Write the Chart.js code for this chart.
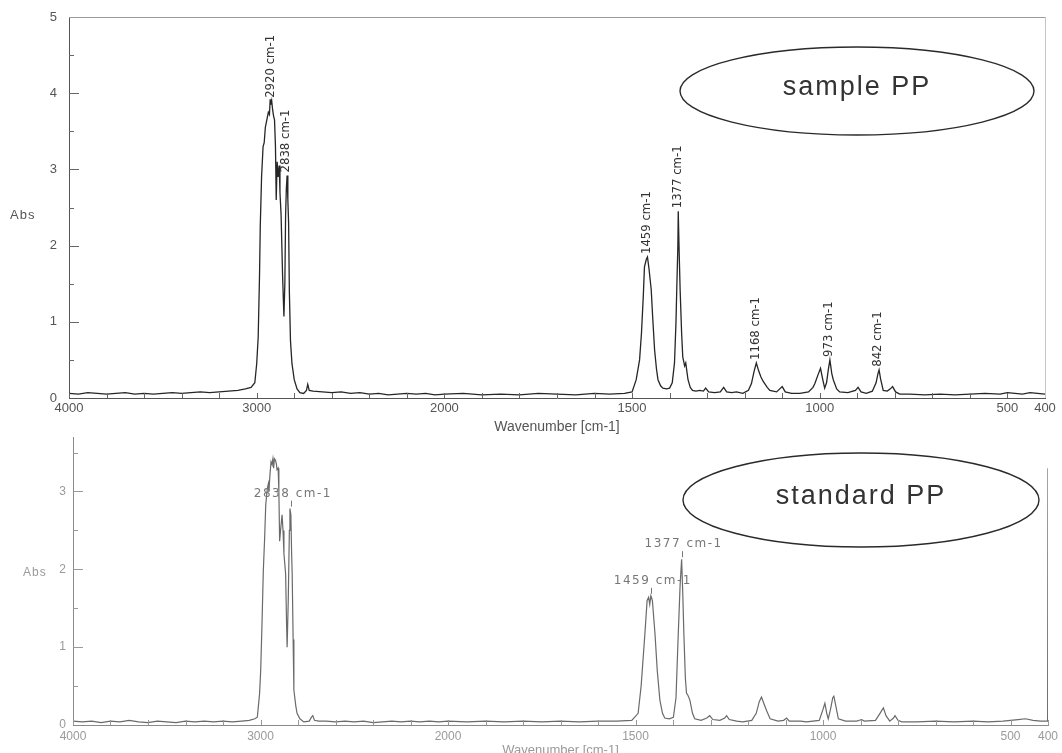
<!DOCTYPE html>
<html>
<head>
<meta charset="utf-8">
<script src="https://cdn.jsdelivr.net/npm/chart.js@4.4.0/dist/chart.umd.min.js"></script>
<style>
    body { margin: 0; background: #fff; }
    canvas { position: absolute; left: 0; }
    #js--top { top: 0; }
    #js--bottom { top: 430px; }
</style>
</head>
<body>
<canvas id="js--top" width="1062" height="440"></canvas>
<canvas id="js--bottom" width="1062" height="323"></canvas>
<script>
// sample PP spectrum (wavenumber cm-1 / absorbance)
const topWave = [4000, 3950, 3900, 3850, 3800, 3750, 3700, 3650, 3600, 3550, 3500, 3450, 3400, 3350, 3300, 3250, 3200, 3150, 3100, 3060, 3030, 3010,
    3000, 2992, 2985, 2981, 2974, 2966, 2960, 2954, 2946, 2938, 2932, 2928, 2924, 2920, 2915, 2910, 2905, 2900, 2896, 2891, 2886, 2880, 2876, 2870,
    2862, 2855, 2850, 2846, 2842, 2838, 2834, 2830, 2826, 2820, 2812, 2800, 2785, 2770, 2750, 2735, 2728, 2720, 2700, 2650, 2600, 2550, 2500, 2450,
    2400, 2350, 2300, 2250, 2200, 2150, 2100, 2050, 2000, 1950, 1900, 1850, 1800, 1750, 1700, 1650, 1600, 1560, 1520, 1500, 1489, 1480, 1475, 1470,
    1467, 1462, 1459, 1455, 1449, 1445, 1440, 1435, 1431, 1424, 1418, 1408, 1400, 1393, 1387, 1383, 1381, 1378, 1377, 1375, 1372, 1368, 1365, 1360,
    1357, 1354, 1351, 1345, 1339, 1330, 1320, 1310, 1304, 1296, 1280, 1265, 1256, 1248, 1235, 1222, 1205, 1190, 1182, 1175, 1169, 1163, 1157, 1151,
    1140, 1133, 1115, 1100, 1092, 1075, 1053, 1030, 1018, 1013, 1005, 998, 992, 987, 982, 977, 973, 968, 964, 955, 947, 925, 905, 898, 890, 876,
    860, 850, 845, 842, 838, 831, 820, 812, 806, 798, 787, 760, 720, 680, 640, 600, 560, 520, 500, 480, 460, 440, 420, 400];
const topAbs = [0.06, 0.05, 0.07, 0.06, 0.05, 0.06, 0.07, 0.05, 0.06, 0.05, 0.06, 0.07, 0.06, 0.07, 0.08, 0.07, 0.08, 0.09, 0.1, 0.12, 0.14, 0.2,
    0.45, 0.8, 1.6, 2.25, 2.9, 3.3, 3.35, 3.55, 3.65, 3.75, 3.72, 3.92, 3.85, 3.9, 3.78, 3.7, 3.65, 3.3, 2.6, 3.1, 2.9, 3.05, 2.7, 2.4,
    1.6, 1.07, 1.5, 2.4, 2.75, 2.92, 2.6, 2.3, 1.4, 0.75, 0.45, 0.24, 0.12, 0.07, 0.06, 0.1, 0.18, 0.1, 0.09, 0.08, 0.07, 0.08, 0.06, 0.07,
    0.05, 0.06, 0.04, 0.05, 0.06, 0.05, 0.06, 0.04, 0.05, 0.06, 0.04, 0.05, 0.04, 0.06, 0.05, 0.04, 0.06, 0.05, 0.06, 0.08, 0.24, 0.5, 0.85, 1.35,
    1.72, 1.82, 1.85, 1.7, 1.42, 1.05, 0.63, 0.38, 0.24, 0.16, 0.13, 0.12, 0.13, 0.2, 0.46, 1.0, 1.42, 2.0, 2.45, 2.0, 1.42, 0.85, 0.54, 0.42,
    0.46, 0.35, 0.24, 0.14, 0.1, 0.09, 0.1, 0.09, 0.13, 0.08, 0.07, 0.08, 0.14, 0.08, 0.07, 0.08, 0.06, 0.1, 0.19, 0.35, 0.46, 0.36, 0.28, 0.22,
    0.14, 0.1, 0.08, 0.15, 0.08, 0.06, 0.06, 0.08, 0.14, 0.19, 0.3, 0.39, 0.24, 0.13, 0.2, 0.38, 0.5, 0.32, 0.24, 0.12, 0.08, 0.07, 0.1, 0.14, 0.08, 0.06,
    0.09, 0.2, 0.32, 0.37, 0.25, 0.1, 0.09, 0.12, 0.15, 0.08, 0.05, 0.05, 0.04, 0.05, 0.04, 0.05, 0.06, 0.05, 0.07, 0.06, 0.05, 0.07, 0.06, 0.05];

// standard PP spectrum
const bottomWave = [4000, 3950, 3900, 3850, 3800, 3750, 3700, 3650, 3600, 3550, 3500, 3450, 3400, 3350, 3300, 3250, 3200, 3150, 3100, 3060, 3030, 3017,
    3005, 2999, 2992, 2985, 2978, 2972, 2964, 2958, 2955, 2950, 2944, 2939, 2934, 2930, 2926, 2920, 2915, 2912, 2906, 2902, 2898, 2893, 2885, 2880,
    2875, 2866, 2861, 2858, 2852, 2846, 2843, 2838, 2834, 2831, 2826, 2822, 2812, 2805, 2790, 2769, 2740, 2728, 2721, 2712, 2690, 2650, 2600, 2550,
    2500, 2450, 2400, 2350, 2300, 2250, 2200, 2150, 2100, 2050, 2000, 1950, 1900, 1850, 1800, 1750, 1700, 1650, 1600, 1550, 1510, 1493, 1485, 1475,
    1469, 1465, 1462, 1459, 1455, 1448, 1442, 1435, 1428, 1422, 1410, 1399, 1392, 1386, 1381, 1377, 1374, 1371, 1367, 1364, 1360, 1355, 1348, 1342,
    1325, 1310, 1302, 1294, 1275, 1262, 1257, 1250, 1230, 1214, 1190, 1178, 1170, 1164, 1158, 1150, 1141, 1120, 1105, 1097, 1090, 1060, 1044, 1010,
    1000, 995, 990, 986, 980, 974, 971, 966, 959, 940, 910, 897, 890, 860, 848, 839, 832, 822, 812, 808, 800, 790, 750, 700, 650, 600, 560, 520,
    480, 460, 440, 420, 406, 401, 400];
const bottomAbs = [0.05, 0.04, 0.05, 0.03, 0.05, 0.04, 0.06, 0.04, 0.03, 0.05, 0.04, 0.03, 0.05, 0.04, 0.05, 0.04, 0.05, 0.04, 0.05, 0.06, 0.08, 0.1,
    0.4, 0.7, 1.3, 1.98, 2.4, 2.83, 3.03, 3.1, 3.0, 3.2, 3.38, 3.35, 3.42, 3.3, 3.42, 3.4, 3.35, 3.28, 3.3, 3.0, 2.36, 2.5, 2.7, 2.5,
    2.2, 1.94, 1.3, 1.0, 1.6, 2.5, 2.78, 2.7, 2.2, 1.94, 1.1, 0.45, 0.25, 0.15, 0.08, 0.04, 0.05, 0.1, 0.12, 0.06, 0.05, 0.05, 0.04, 0.05,
    0.04, 0.05, 0.03, 0.04, 0.05, 0.04, 0.05, 0.04, 0.05, 0.04, 0.05, 0.04, 0.05, 0.04, 0.05, 0.04, 0.05, 0.04, 0.05, 0.05, 0.06, 0.15, 0.5, 1.17,
    1.6, 1.64, 1.55, 1.66, 1.6, 1.17, 0.7, 0.32, 0.15, 0.09, 0.08, 0.1, 0.35, 1.17, 1.8, 2.13, 1.7, 1.17, 0.6, 0.41, 0.38, 0.32, 0.15, 0.08,
    0.06, 0.09, 0.12, 0.07, 0.06, 0.09, 0.12, 0.07, 0.05, 0.04, 0.06, 0.15, 0.3, 0.36, 0.28, 0.18, 0.08, 0.05, 0.06, 0.09, 0.05, 0.05, 0.04, 0.06,
    0.2, 0.28, 0.15, 0.08, 0.2, 0.35, 0.37, 0.25, 0.08, 0.05, 0.05, 0.07, 0.05, 0.06, 0.15, 0.22, 0.12, 0.05, 0.09, 0.12, 0.06, 0.04, 0.04, 0.05, 0.04, 0.05, 0.04, 0.05,
    0.07, 0.08, 0.06, 0.05, 0.05, 0.05, 3.3];

const xTickWaves = [4000, 3000, 2000, 1500, 1000, 500, 400];
const topPeakWaves = [2920, 2838, 1459, 1377, 1168, 973, 842];
const topPeakLabels = ["2920 cm-1", "2838 cm-1", "1459 cm-1", "1377 cm-1", "1168 cm-1", "973 cm-1", "842 cm-1"];
const bottomPeakWaves = [2838, 1459, 1377];
const bottomPeakLabels = ["2838 cm-1", "1459 cm-1", "1377 cm-1"];

// the instrument plots 4000-2000 at half the scale of 2000-400
const fold = w => w <= 2000 ? w : 2000 + (w - 2000) / 2;
const unfold = v => v <= 2000 ? v : 2000 + (v - 2000) * 2;

const peakTop = function(waves, abs, w) {
    let best = 0;
    waves.forEach((v, i) => {
        if (Math.abs(v - w) <= 5 && abs[i] > best) best = abs[i];
    });
    return best;
};

const makeDecor = function(look) {
    return {
        id: 'decor',
        afterDraw(chart) {
            const ctx = chart.ctx;
            const a = chart.chartArea;
            const x = chart.scales.x;
            const y = chart.scales.y;
            ctx.save();

            // inward tick marks
            ctx.strokeStyle = look.tickColor;
            ctx.lineWidth = 1;
            ctx.beginPath();
            for (let v = 400; v <= 3000; v += 100) {
                const px = Math.round(x.getPixelForValue(v)) + 0.5;
                ctx.moveTo(px, a.bottom);
                ctx.lineTo(px, a.bottom - 5);
            }
            for (let v = 0.5; v <= y.max; v += 0.5) {
                const py = Math.round(y.getPixelForValue(v)) + 0.5;
                ctx.moveTo(a.left, py);
                ctx.lineTo(a.left + (v % 1 === 0 ? 10 : 5), py);
            }
            ctx.stroke();

            if (look.frame) {
                ctx.strokeStyle = "#9a9a9a";
                ctx.beginPath();
                ctx.moveTo(a.left, Math.round(a.top) + 0.5);
                ctx.lineTo(a.right, Math.round(a.top) + 0.5);
                ctx.stroke();
                ctx.strokeStyle = "#c4c4c4";
                ctx.beginPath();
                ctx.moveTo(Math.round(a.right) + 0.5, a.top);
                ctx.lineTo(Math.round(a.right) + 0.5, a.bottom);
                ctx.stroke();
            }

            // "Abs" axis name, written horizontally
            ctx.fillStyle = look.textColor;
            ctx.font = look.absFont;
            ctx.letterSpacing = "1px";
            ctx.textAlign = "left";
            ctx.textBaseline = "middle";
            ctx.fillText("Abs", look.absX, look.absY);

            // peak labels
            ctx.fillStyle = look.peakColor;
            ctx.strokeStyle = look.peakColor;
            ctx.font = look.peakFont;
            look.peaks.forEach((w, i) => {
                const px = x.getPixelForValue(fold(w));
                const py = y.getPixelForValue(peakTop(look.waves, look.abs, w));
                if (look.rotated) {
                    ctx.save();
                    ctx.translate(px - 1, py - 3);
                    ctx.rotate(-Math.PI / 2);
                    ctx.letterSpacing = "0px";
                    ctx.textAlign = "left";
                    ctx.fillText(look.labels[i], 0, 0);
                    ctx.restore();
                } else {
                    ctx.beginPath();
                    ctx.moveTo(Math.round(px) + 0.5, py - 2);
                    ctx.lineTo(Math.round(px) + 0.5, py - 8);
                    ctx.stroke();
                    ctx.letterSpacing = "1.5px";
                    ctx.textAlign = "center";
                    ctx.fillText(look.labels[i], px + 2, py - 15);
                }
            });

            // name bubble
            const e = look.bubble;
            ctx.beginPath();
            ctx.ellipse(e.cx, e.cy, e.rx, e.ry, 0, 0, Math.PI * 2);
            ctx.fillStyle = "#fff";
            ctx.fill();
            ctx.lineWidth = 1.4;
            ctx.strokeStyle = "#2a2a2a";
            ctx.stroke();
            ctx.fillStyle = "#333";
            ctx.font = "27px 'Liberation Sans', Arial, sans-serif";
            ctx.letterSpacing = "2px";
            ctx.textAlign = "center";
            ctx.textBaseline = "middle";
            ctx.fillText(e.text, e.cx, e.cy - 3);

            ctx.restore();
        }
    };
};

const spectrumChart = function(id, waves, abs, look) {
    const points = waves.map((w, i) => ({ x: fold(w), y: abs[i] }));
    return new Chart(document.getElementById(id), {
        type: 'line',
        data: {
            datasets: [{
                data: points,
                borderColor: look.line,
                borderWidth: look.lineWidth,
                pointRadius: 0,
                tension: 0,
                fill: false
            }]
        },
        options: {
            responsive: false,
            animation: false,
            events: [],
            layout: { padding: look.padding },
            plugins: { legend: { display: false }, tooltip: { enabled: false } },
            scales: {
                x: {
                    type: 'linear',
                    reverse: true,
                    min: 400,
                    max: 3000,
                    afterBuildTicks: s => { s.ticks = xTickWaves.map(w => ({ value: fold(w) })); },
                    afterFit: s => {
                        s.height = look.xHeight;
                        s.paddingLeft = 0;
                        s.paddingRight = 0;
                    },
                    ticks: {
                        callback: v => String(unfold(v)),
                        autoSkip: false,
                        maxRotation: 0,
                        padding: look.xTickPad,
                        color: look.textColor,
                        font: { family: "'Liberation Sans', Arial, sans-serif", size: look.tickSize }
                    },
                    grid: { drawOnChartArea: false, drawTicks: false },
                    border: { color: look.axisColor, width: 1 },
                    title: {
                        display: true,
                        text: 'Wavenumber [cm-1]',
                        color: look.textColor,
                        font: { family: "'Liberation Sans', Arial, sans-serif", size: look.titleSize },
                        padding: { top: 0, bottom: look.titlePad }
                    }
                },
                y: {
                    min: 0,
                    max: look.yMax,
                    afterBuildTicks: s => {
                        const t = [];
                        for (let v = 0; v <= Math.floor(look.yMax); v++) t.push({ value: v });
                        s.ticks = t;
                    },
                    afterFit: s => {
                        s.width = look.yWidth;
                        s.paddingTop = 0;
                        s.paddingBottom = 0;
                    },
                    ticks: {
                        padding: look.yTickPad,
                        color: look.textColor,
                        font: { family: "'Liberation Sans', Arial, sans-serif", size: look.tickSize }
                    },
                    grid: { drawOnChartArea: false, drawTicks: false },
                    border: { color: look.axisColor, width: 1 }
                }
            }
        },
        plugins: [makeDecor(Object.assign({ waves: waves, abs: abs }, look))]
    });
};

spectrumChart("js--top", topWave, topAbs, {
    line: "#262626", lineWidth: 1.3, axisColor: "#555", tickColor: "#666", textColor: "#555", peakColor: "#333",
    padding: { left: 0, top: 17, right: 17, bottom: 0 }, yWidth: 69, xHeight: 42, yMax: 5,
    xTickPad: 3, yTickPad: 12, tickSize: 13, titleSize: 14, titlePad: 4, frame: true,
    absFont: "13px 'Liberation Sans', Arial, sans-serif", absX: 10, absY: 215,
    peaks: topPeakWaves, labels: topPeakLabels, rotated: true,
    peakFont: "13px 'DejaVu Sans Condensed', 'Liberation Sans Narrow', sans-serif",
    bubble: { cx: 857, cy: 91, rx: 177, ry: 44, text: "sample PP" }
});

spectrumChart("js--bottom", bottomWave, bottomAbs, {
    line: "#6a6a6a", lineWidth: 1.2, axisColor: "#8a8a8a", tickColor: "#999", textColor: "#9a9a9a", peakColor: "#777",
    padding: { left: 0, top: 7, right: 14, bottom: 0 }, yWidth: 73, xHeight: 28, yMax: 3.7,
    xTickPad: 4, yTickPad: 7, tickSize: 12, titleSize: 13, titlePad: -5, frame: false,
    absFont: "12px 'Liberation Sans', Arial, sans-serif", absX: 23, absY: 143,
    peaks: bottomPeakWaves, labels: bottomPeakLabels, rotated: false,
    peakFont: "12px 'DejaVu Sans', sans-serif",
    bubble: { cx: 861, cy: 70, rx: 178, ry: 47, text: "standard PP" }
});
</script>
</body>
</html>
